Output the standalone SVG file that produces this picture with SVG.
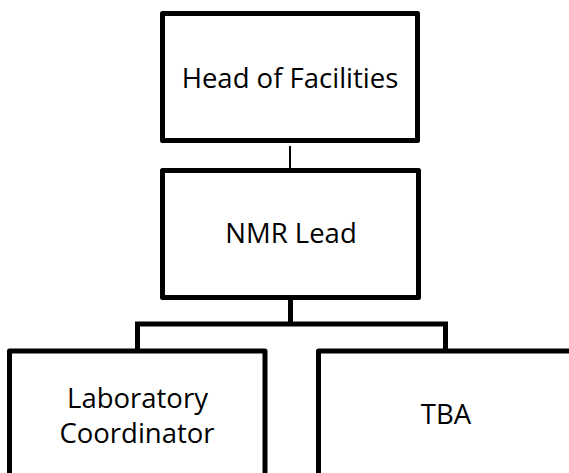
<svg xmlns="http://www.w3.org/2000/svg" width="569" height="473" viewBox="0 0 569 473">
<style>
.box{fill:#fff;stroke:#000;stroke-width:5;stroke-linejoin:round}
.lbl{font-family:"Open Sans","Noto Sans",sans-serif;font-size:27.5px;fill:#000;text-anchor:middle}
.con{fill:none;stroke:#000;stroke-width:5}
.thin{fill:none;stroke:#000;stroke-width:2}
</style>
<rect width="569" height="473" fill="#fff"/>
<g id="connectors">
<line class="thin" x1="290" y1="146" x2="290" y2="176"/>
<polyline class="con" points="290.5,297 290.5,324"/>
<polyline class="con" points="137.5,352 137.5,324 445.5,324 445.5,352"/>
</g>
<g id="head">
<rect class="box" x="162.5" y="13.5" width="255" height="127"/>
<text class="lbl" x="290" y="88">Head of Facilities</text>
</g>
<g id="nmr">
<rect class="box" x="162.5" y="170.5" width="256" height="127"/>
<text class="lbl" x="291" y="243">NMR Lead</text>
</g>
<g id="labcoord">
<rect class="box" x="9.5" y="351" width="255.5" height="140"/>
<text class="lbl" x="137.5" y="408">Laboratory</text>
<text class="lbl" x="137" y="443">Coordinator</text>
</g>
<g id="tba">
<rect class="box" x="318.5" y="351" width="270" height="140"/>
<text class="lbl" x="446" y="424">TBA</text>
</g>
</svg>
